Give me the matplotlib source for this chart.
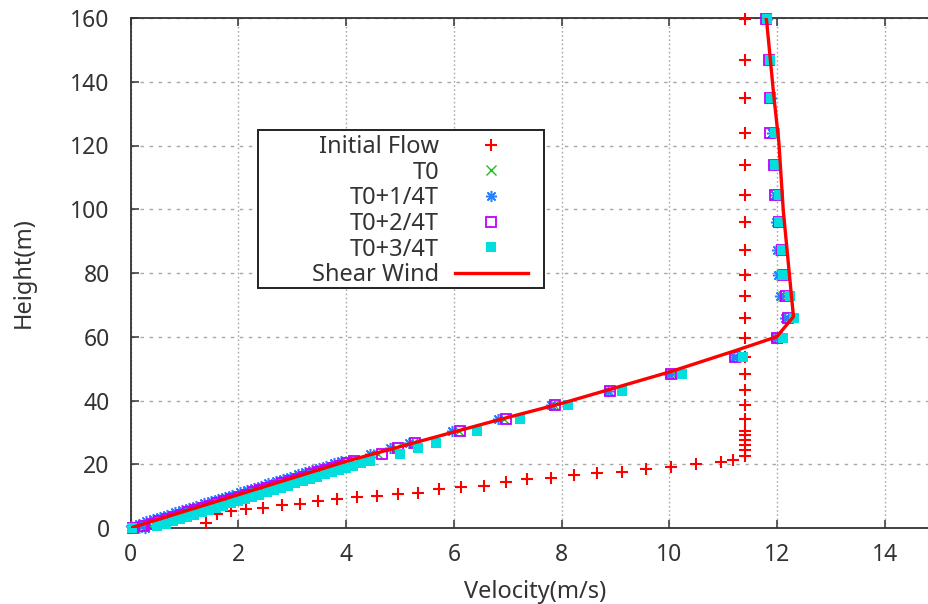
import matplotlib
matplotlib.use('Agg')
import matplotlib.pyplot as plt
from matplotlib.patches import Rectangle

plt.rcParams['font.family'] = ['Noto Sans', 'DejaVu Sans']

# ---------------- data ----------------
# Initial flow
if_vel = [1.40, 1.60, 1.86, 2.14, 2.46, 2.81, 3.15, 3.48, 3.84, 4.20, 4.58, 4.97,
          5.34, 5.73, 6.13, 6.55, 6.97, 7.35, 7.80, 8.23, 8.65, 9.12, 9.56, 10.03,
          10.49, 10.96, 11.17,
          11.40, 11.40, 11.40, 11.40, 11.40, 11.40, 11.40, 11.40, 11.40, 11.40,
          11.40, 11.40, 11.40, 11.40, 11.40, 11.40, 11.40, 11.40, 11.40, 11.40,
          11.40, 11.40, 11.40]
if_h = [1.7, 4.4, 5.3, 6.1, 6.4, 7.1, 7.5, 8.4, 9.0, 9.6, 9.9, 10.8,
        11.1, 12.1, 12.8, 13.2, 14.4, 15.4, 15.8, 16.6, 17.4, 17.7, 18.4, 19.2,
        20.2, 20.8, 21.3,
        22.7, 24.4, 25.9, 27.5, 29.1, 30.5, 34.3, 38.6, 43.2,
        48.3, 53.5, 59.7, 65.8, 72.7, 79.4, 87.1, 96.0, 104.6, 113.9,
        123.8, 134.8, 146.8, 159.7]

# heights of the simulated profiles
t_h = [0.0, 0.7, 1.4, 2.1, 2.8, 3.5, 4.2, 4.9, 5.6, 6.3, 7.0, 7.7, 8.4, 9.1,
       9.8, 10.5, 11.2, 11.9, 12.6, 13.3, 14.0, 14.7, 15.4, 16.1, 16.8, 17.5,
       18.2, 18.9, 19.6, 20.3, 21.0,
       23.2, 25.0, 26.7, 30.4, 34.2, 38.6, 43.1, 48.2, 53.5, 59.7, 65.8, 72.7,
       79.4, 87.1, 96.0, 104.6, 113.9, 123.8, 134.8, 146.8, 159.7]

t0_vel = [0.08, 0.18, 0.32, 0.45, 0.59, 0.72, 0.85, 0.99, 1.12, 1.26, 1.39, 1.53,
          1.66, 1.79, 1.93, 2.06, 2.20, 2.33, 2.46, 2.60, 2.73, 2.87, 3.00, 3.13,
          3.27, 3.40, 3.54, 3.67, 3.80, 3.94, 4.07,
          4.60, 4.93, 5.25, 6.10, 6.93, 7.85, 8.88, 10.05, 11.24, 12.00, 12.18,
          12.10, 12.06, 12.05, 12.01, 11.96, 11.94, 11.90, 11.87, 11.84, 11.79]

t1_vel = [0.27, 0.00, 0.15, 0.28, 0.42, 0.55, 0.68, 0.82, 0.95, 1.09, 1.22, 1.36,
          1.49, 1.62, 1.76, 1.89, 2.03, 2.16, 2.29, 2.43, 2.56, 2.70, 2.83, 2.96,
          3.10, 3.23, 3.37, 3.50, 3.63, 3.77, 3.90,
          4.45, 4.81, 5.17, 5.97, 6.82, 7.80, 8.85, 10.00, 11.20, 11.95, 12.14,
          12.05, 12.01, 12.00, 11.98, 11.95, 11.93, 11.90, 11.88, 11.85, 11.80]

t2_vel = [0.05, 0.25, 0.40, 0.53, 0.67, 0.80, 0.93, 1.07, 1.20, 1.34, 1.47, 1.61,
          1.74, 1.87, 2.01, 2.14, 2.28, 2.41, 2.54, 2.68, 2.81, 2.95, 3.08, 3.21,
          3.35, 3.48, 3.62, 3.75, 3.88, 4.02, 4.15,
          4.66, 4.97, 5.27, 6.12, 6.96, 7.87, 8.89, 10.03, 11.22, 11.99, 12.20,
          12.17, 12.12, 12.08, 12.03, 11.95, 11.94, 11.86, 11.87, 11.84, 11.79]

t3_vel = [0.02, 0.50, 0.65, 0.78, 0.92, 1.05, 1.18, 1.32, 1.45, 1.59, 1.72, 1.86,
          1.99, 2.12, 2.26, 2.39, 2.53, 2.66, 2.79, 2.93, 3.06, 3.20, 3.33, 3.46,
          3.60, 3.73, 3.87, 4.00, 4.13, 4.27, 4.45,
          5.00, 5.33, 5.66, 6.42, 7.23, 8.12, 9.11, 10.23, 11.37, 12.11, 12.31,
          12.23, 12.11, 12.09, 12.04, 12.03, 11.95, 11.95, 11.89, 11.86, 11.81]

# shear wind profile
sw_vel = [0.0, 4.02, 6.82, 8.00, 10.01, 11.25, 11.99, 12.30, 12.24, 12.11,
          12.03, 11.93, 11.86, 11.80, 11.79]
sw_h = [0.0, 21.0, 33.9, 39.1, 49.0, 55.8, 60.0, 66.3, 76.8, 99.8,
        120.8, 136.4, 148.9, 159.4, 160.0]

labels = ['Initial Flow', 'T0', 'T0+1/4T', 'T0+2/4T', 'T0+3/4T', 'Shear Wind']
x_ticks = [0, 2, 4, 6, 8, 10, 12, 14]
y_ticks = [0, 20, 40, 60, 80, 100, 120, 140, 160]

# ---------------- figure ----------------
W, H = 929, 604
FS_TICK = 16.5
FS = 17
LSP = 0.07
fig = plt.figure(figsize=(W / 100, H / 100), dpi=100)
ax = fig.add_axes([130.5 / W, 76 / H, 808.5 / W, 510 / H])
ax.set_xlim(0, 15)
ax.set_ylim(0, 160)
ax.set_xticks(x_ticks)
ax.set_yticks(y_ticks)

txtc = '#333333'
ax.tick_params(direction='in', length=6, width=1.1, top=True, right=True,
               labelsize=FS_TICK, colors='#333333', labelcolor=txtc)
ax.tick_params(axis='y', pad=15)
ax.tick_params(axis='x', pad=11)
for s in ax.spines.values():
    s.set_linewidth(1.3)
    s.set_color('#333333')

ax.grid(True, axis='x', color='#a8a8a8', linewidth=1.0, linestyle=(0, (1.2, 1.8)))
ax.grid(True, axis='y', color='#a8a8a8', linewidth=1.0, linestyle=(0, (2.5, 4.0)))
ax.set_axisbelow(True)

h_if, = ax.plot(if_vel, if_h, linestyle='none', marker='+', color='#ff0000',
                markersize=9, markeredgewidth=1.5, clip_on=False, zorder=3)
h_t0, = ax.plot(t0_vel, t_h, linestyle='none', marker='x', color='#22bb22',
                markersize=7, markeredgewidth=1.0, clip_on=False, zorder=3)
h_t1, = ax.plot(t1_vel, t_h, linestyle='none', marker=(8, 2, 0), color='#2a7fff',
                markersize=8, markeredgewidth=1.1, clip_on=False, zorder=3)
h_t2, = ax.plot(t2_vel, t_h, linestyle='none', marker='s', markerfacecolor='none',
                markeredgecolor='#c000ff', markersize=7, markeredgewidth=1.3,
                clip_on=False, zorder=3)
h_t3, = ax.plot(t3_vel, t_h, linestyle='none', marker='s', color='#00dede',
                markersize=7.5, markeredgewidth=0, clip_on=False, zorder=3)
h_sw, = ax.plot(sw_vel, sw_h, color='#ff0000', linewidth=2.4, zorder=4,
                solid_joinstyle='round')

ax.set_xlabel('Velocity(m/s)', fontsize=FS, color=txtc, labelpad=9)
ax.set_ylabel('Height(m)', fontsize=FS, color=txtc, labelpad=25)

# legend box
x0 = (258 - 130.5) / 808.5
x1 = (544 - 130.5) / 808.5
y0 = (528 - 288) / 510
y1 = (528 - 130) / 510
ax.add_patch(Rectangle((x0, y0), x1 - x0, y1 - y0, transform=ax.transAxes,
                       facecolor='white', edgecolor='#222222', linewidth=1.4,
                       zorder=5))

# legend: sample marks from the library (empty labels), labels drawn right-aligned
n = len(labels)
leg = ax.legend([h_if, h_t0, h_t1, h_t2, h_t3, h_sw], [''] * n,
                loc='upper right', bbox_to_anchor=((528 - 130.5) / 808.5, (528 - 135) / 510),
                bbox_transform=ax.transAxes, frameon=False, markerfirst=False,
                borderpad=0, borderaxespad=0, fontsize=FS, handlelength=3.1,
                handletextpad=0.0, labelspacing=LSP, numpoints=1)
leg.set_zorder(6)

fig.canvas.draw()
r = fig.canvas.get_renderer()
lb = leg.get_window_extent(r)
ls = LSP * FS * 100 / 72.0
row = (lb.height - (n - 1) * ls) / n
for i, lab in enumerate(labels):
    yc = lb.y1 - row / 2 - i * (row + ls)
    fig.text(439 / W, yc / H, lab, ha='right', va='center',
             fontsize=FS, color=txtc, zorder=7)

fig.savefig('out.png', dpi=100)
